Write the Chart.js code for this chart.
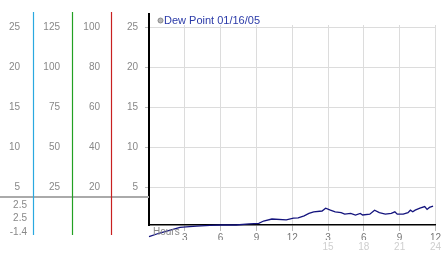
<!DOCTYPE html>
<html>
<head>
<meta charset="utf-8">
<script src="https://cdn.jsdelivr.net/npm/chart.js@4"></script>
<style>
html, body { margin: 0; padding: 0; background: #fff; }
</style>
</head>
<body>
<canvas id="c" width="442" height="253"></canvas>
<script>
// dew point trace
var hours = [0, 0.9, 2.6, 3.4, 4.0, 5.1, 6.1, 7.3, 8.4, 9.2, 9.6, 10.3, 11.5, 12.1, 12.5, 13.0, 13.4, 13.8, 14.5, 14.8, 15.2, 15.6, 16.1, 16.4, 16.9, 17.3, 17.7, 17.9, 18.5, 18.9, 19.3, 19.8, 20.3, 20.6, 20.8, 21.3, 21.7, 21.9, 22.1, 22.3, 22.7, 23.1, 23.3, 23.5, 23.8];
var dewPoint = [-1.2, -0.75, -0.05, 0.05, 0.1, 0.2, 0.25, 0.25, 0.4, 0.45, 0.75, 1.0, 0.9, 1.1, 1.15, 1.4, 1.7, 1.9, 2.0, 2.35, 2.1, 1.9, 1.8, 1.6, 1.7, 1.5, 1.7, 1.5, 1.6, 2.1, 1.8, 1.6, 1.7, 1.9, 1.6, 1.6, 1.8, 2.1, 1.9, 2.1, 2.35, 2.55, 2.2, 2.45, 2.6];
var seriesLabel = 'Dew Point 01/16/05';

var xTicks = [3, 6, 9, 12, 15, 18, 21, 24];
var xLabels = ['3', '6', '9', '12', '3', '6', '9', '12'];
var xLabels2 = ['', '', '', '', '15', '18', '21', '24'];
var yTicks = [5, 10, 15, 20, 25];
var col1Labels = ['5', '10', '15', '20', '25'];
var col2Labels = ['25', '50', '75', '100', '125'];
var col3Labels = ['20', '40', '60', '80', '100'];
var mainLabels = ['5', '10', '15', '20', '25'];
var sideValues = ['2.5', '2.5', '-1.4'];

const tickFont = { family: 'Liberation Sans', size: 10 };
const Y_MIN = 0.25, Y_MAX = 25.25;

function sideAxis(labels, width, pad, weight) {
  return {
    type: 'linear',
    position: 'left',
    weight: weight,
    min: Y_MIN,
    max: Y_MAX,
    afterBuildTicks: function (axis) {
      axis.ticks = yTicks.map(v => ({ value: v }));
    },
    afterFit: function (axis) { axis.width = width; },
    ticks: {
      padding: pad,
      color: '#888',
      font: tickFont,
      callback: function (v, i) { return labels[i]; }
    },
    grid: { display: false, drawTicks: false },
    border: { display: false }
  };
}

var decor = {
  id: 'decor',
  afterDraw: function (chart) {
    const ctx = chart.ctx;
    const ca = chart.chartArea;
    const y = chart.scales.y;
    ctx.save();
    // gray separator under the side columns
    const sepY = y.getPixelForValue(3.75);
    ctx.strokeStyle = '#aaa';
    ctx.lineWidth = 2;
    ctx.beginPath();
    ctx.moveTo(0, sepY);
    ctx.lineTo(ca.left, sepY);
    ctx.stroke();
    // coloured column dividers
    const cols = [['y1', '#2aa8e0'], ['y2', '#22a022'], ['y3', '#c82020']];
    ctx.lineWidth = 1.2;
    cols.forEach(function (c) {
      const xx = Math.round(chart.scales[c[0]].right) + 0.5;
      ctx.strokeStyle = c[1];
      ctx.beginPath();
      ctx.moveTo(xx, 12);
      ctx.lineTo(xx, 235);
      ctx.stroke();
    });
    // black axis runs a little above the plot
    ctx.strokeStyle = '#000';
    ctx.lineWidth = 2;
    ctx.beginPath();
    ctx.moveTo(ca.left, 13);
    ctx.lineTo(ca.left, ca.top);
    ctx.stroke();
    // values under the separator
    ctx.font = '10px "Liberation Sans"';
    ctx.fillStyle = '#888';
    ctx.textAlign = 'right';
    ctx.textBaseline = 'middle';
    sideValues.forEach(function (s, i) {
      ctx.fillText(s, 27, sepY + 8 + i * 13.5);
    });
    // axis caption
    ctx.textAlign = 'left';
    ctx.fillText('Hours', ca.left + 4, 232);
    // legend
    ctx.fillStyle = '#b8b8b8';
    ctx.strokeStyle = '#888';
    ctx.lineWidth = 1;
    ctx.beginPath();
    ctx.arc(ca.left + 11.5, 20.5, 2.5, 0, Math.PI * 2);
    ctx.fill();
    ctx.stroke();
    ctx.font = '11px "Liberation Sans"';
    ctx.fillStyle = '#2a3aa8';
    ctx.fillText(seriesLabel, ca.left + 15, 20.5);
    ctx.restore();
  }
};

new Chart(document.getElementById('c'), {
  type: 'line',
  data: {
    datasets: [{
      label: seriesLabel,
      data: hours.map((h, i) => ({ x: h, y: dewPoint[i] })),
      borderColor: '#14147e',
      borderWidth: 1.3,
      pointRadius: 0,
      tension: 0,
      clip: false
    }]
  },
  options: {
    responsive: false,
    animation: false,
    layout: { padding: { top: 25, right: 3, left: 0, bottom: 0 } },
    plugins: {
      legend: { display: false },
      tooltip: { enabled: false }
    },
    scales: {
      x: {
        type: 'linear',
        min: 0,
        max: 24,
        afterBuildTicks: function (axis) {
          axis.ticks = xTicks.map(v => ({ value: v }));
        },
        afterFit: function (axis) { axis.height = 15; },
        ticks: {
          padding: 1,
          color: '#777',
          font: tickFont,
          maxRotation: 0,
          autoSkip: false,
          callback: function (v, i) { return xLabels[i]; }
        },
        grid: { color: '#dcdcdc', tickColor: '#bbb', tickLength: 6 },
        border: { color: '#000', width: 1.5 }
      },
      x2: {
        type: 'linear',
        position: 'bottom',
        min: 0,
        max: 24,
        afterBuildTicks: function (axis) {
          axis.ticks = xTicks.map(v => ({ value: v }));
        },
        afterFit: function (axis) { axis.height = 13; },
        ticks: {
          padding: 1,
          color: '#cfcfcf',
          font: tickFont,
          maxRotation: 0,
          autoSkip: false,
          callback: function (v, i) { return xLabels2[i]; }
        },
        grid: { display: false, drawTicks: false },
        border: { display: false }
      },
      y1: sideAxis(col1Labels, 33, 13, 3),
      y2: sideAxis(col2Labels, 39, 12, 2),
      y3: sideAxis(col3Labels, 39, 11, 1),
      y: {
        type: 'linear',
        position: 'left',
        weight: 0,
        min: Y_MIN,
        max: Y_MAX,
        afterBuildTicks: function (axis) {
          axis.ticks = yTicks.map(v => ({ value: v }));
        },
        afterFit: function (axis) { axis.width = 38; },
        ticks: {
          padding: 7,
          color: '#888',
          font: tickFont,
          callback: function (v, i) { return mainLabels[i]; }
        },
        grid: { color: '#dcdcdc', tickColor: '#bbb', tickLength: 4 },
        border: { color: '#000', width: 2 }
      }
    }
  },
  plugins: [decor]
});
</script>
</body>
</html>
